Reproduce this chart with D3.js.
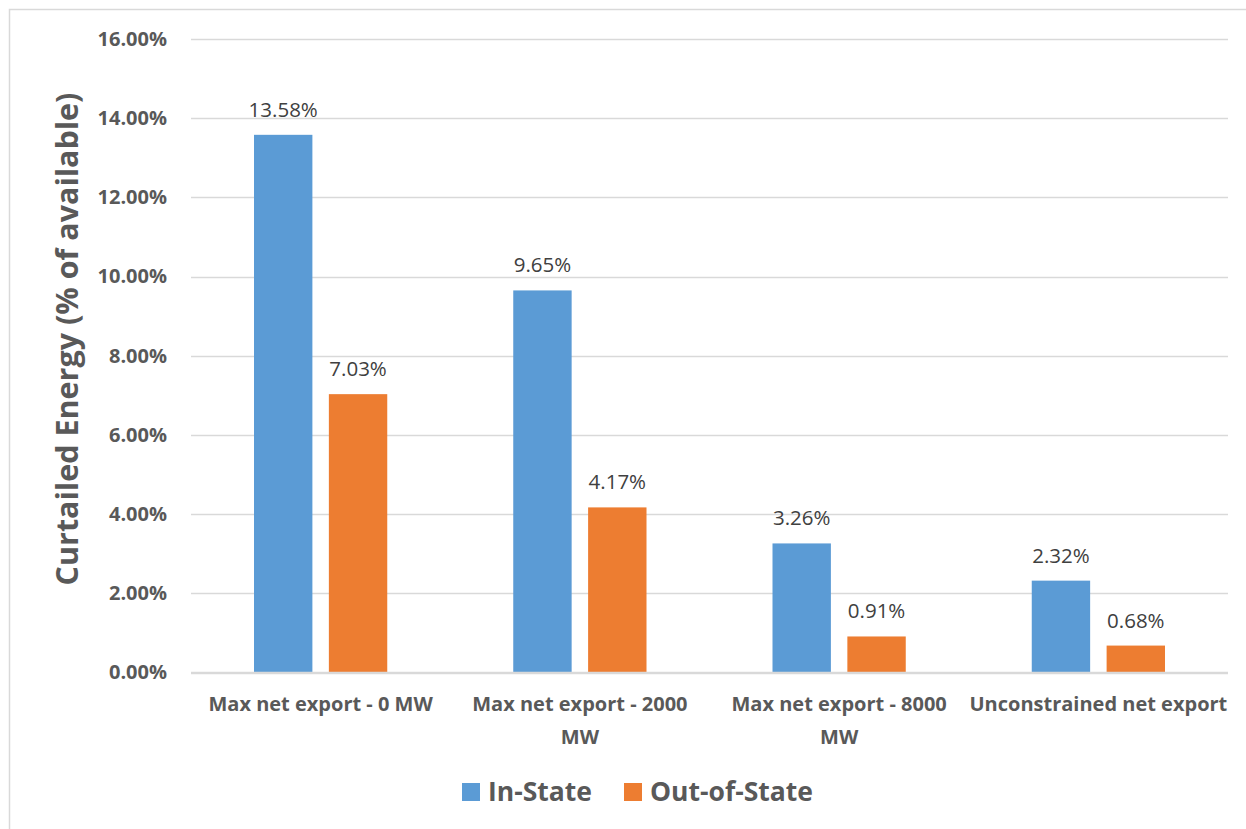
<!DOCTYPE html>
<html>
<head>
<meta charset="utf-8">
<script src="https://cdn.jsdelivr.net/npm/d3@7"></script>
<style>
  html, body { margin: 0; padding: 0; background: #fff; }
  svg { display: block; font-family: "Open Sans", sans-serif; }
</style>
</head>
<body>
<svg id="chart" width="1246" height="829"></svg>
<script>
// Curtailed energy by export constraint scenario
const categories = [
  "Max net export - 0 MW",
  "Max net export - 2000 MW",
  "Max net export - 8000 MW",
  "Unconstrained net export"
];
// Axis label lines for each category
const categoryLines = [
  ["Max net export - 0 MW"],
  ["Max net export - 2000", "MW"],
  ["Max net export - 8000", "MW"],
  ["Unconstrained net export"]
];
const seriesNames = ["In-State", "Out-of-State"];
const inState = [13.58, 9.65, 3.26, 2.32];
const outOfState = [7.03, 4.17, 0.91, 0.68];
const yTicks = [0, 2, 4, 6, 8, 10, 12, 14, 16];
const colors = ["#5B9BD5", "#ED7D31"];

const svg = d3.select("#chart");
const margin = { left: 191, right: 18, top: 39, bottom: 156.5 };
const W = 1246, H = 829;
const plotW = W - margin.left - margin.right;
const plotH = H - margin.top - margin.bottom;

// outer border of the chart area
svg.append("rect")
  .attr("x", 9.5).attr("y", 9.5)
  .attr("width", W + 20).attr("height", H + 20)
  .attr("fill", "none").attr("stroke", "#D9D9D9").attr("stroke-width", 1.5);

const g = svg.append("g").attr("transform", `translate(${margin.left},${margin.top})`);

const x0 = d3.scaleBand().domain(categories).range([0, plotW]).paddingInner(0).paddingOuter(0);
const x1 = d3.scaleBand().domain(seriesNames).range([63, x0.bandwidth() - 63]).paddingInner(0.22);
const y = d3.scaleLinear().domain([0, 16]).range([plotH, 0]);

// gridlines
g.append("g")
  .selectAll("line")
  .data(yTicks)
  .join("line")
  .attr("x1", 0).attr("x2", plotW)
  .attr("y1", d => Math.round(y(d)) + 0.5).attr("y2", d => Math.round(y(d)) + 0.5)
  .attr("stroke", "#D9D9D9").attr("stroke-width", 1.5);

// y axis labels
const yAxis = d3.axisLeft(y).tickValues(yTicks).tickSize(0).tickPadding(24)
  .tickFormat(d => d3.format(".2f")(d) + "%");
const yg = g.append("g").call(yAxis);
yg.select(".domain").remove();
yg.selectAll("text")
  .attr("font-family", "Open Sans").attr("font-weight", "bold")
  .attr("font-size", 20).attr("fill", "#595959");

// bars
const series = [inState, outOfState];
const groups = g.append("g").selectAll("g")
  .data(categories)
  .join("g")
  .attr("transform", d => `translate(${x0(d)},0)`);

groups.selectAll("rect")
  .data((d, i) => seriesNames.map((s, j) => ({ s, v: series[j][i], j })))
  .join("rect")
  .attr("x", d => x1(d.s))
  .attr("width", x1.bandwidth())
  .attr("y", d => y(d.v))
  .attr("height", d => y(0) - y(d.v))
  .attr("fill", d => colors[d.j]);

// value labels
groups.selectAll("text.val")
  .data((d, i) => seriesNames.map((s, j) => ({ s, v: series[j][i], j })))
  .join("text")
  .attr("class", "val")
  .attr("x", d => x1(d.s) + x1.bandwidth() / 2)
  .attr("y", d => y(d.v) - 18)
  .attr("text-anchor", "middle")
  .attr("font-size", 20.5).attr("fill", "#404040")
  .text(d => d3.format(".2f")(d.v) + "%");

// x axis line
g.append("line")
  .attr("x1", 0).attr("x2", plotW)
  .attr("y1", y(0)).attr("y2", y(0))
  .attr("stroke", "#D9D9D9").attr("stroke-width", 1.5);

// x axis labels
const xAxis = d3.axisBottom(x0).tickSize(0).tickFormat("");
const xg = g.append("g").attr("transform", `translate(0,${plotH})`).call(xAxis);
xg.select(".domain").remove();
xg.selectAll(".tick").each(function(d, i) {
  const t = d3.select(this).append("text")
    .attr("text-anchor", "middle")
    .attr("font-family", "Open Sans").attr("font-weight", "bold")
    .attr("font-size", 20).attr("fill", "#595959");
  categoryLines[i].forEach((line, k) => {
    t.append("tspan").attr("x", 0).attr("y", 38 + k * 33).text(line);
  });
});

// y axis title
svg.append("text")
  .attr("transform", "translate(78,339) rotate(-90)")
  .attr("text-anchor", "middle")
  .attr("font-weight", "bold").attr("font-size", 30.5).attr("fill", "#595959")
  .text("Curtailed Energy (% of available)");

// legend
const legendItems = [
  { name: seriesNames[0], color: colors[0], x: 462 },
  { name: seriesNames[1], color: colors[1], x: 624 }
];
const lg = svg.append("g");
legendItems.forEach(it => {
  lg.append("rect").attr("x", it.x).attr("y", 783).attr("width", 18).attr("height", 18).attr("fill", it.color);
  lg.append("text").attr("x", it.x + 26).attr("y", 801)
    .attr("font-weight", "bold").attr("font-size", 26.5).attr("fill", "#595959")
    .text(it.name);
});
</script>
</body>
</html>
